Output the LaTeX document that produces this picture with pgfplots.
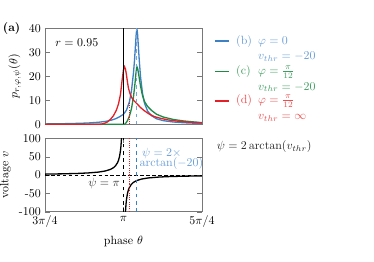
\documentclass[border=0pt]{standalone}
\usepackage{pgfplots}
\pgfplotsset{compat=1.18}
\definecolor{cb}{RGB}{62,128,196}
\definecolor{cg}{RGB}{30,138,70}
\definecolor{cr}{RGB}{228,32,38}
\definecolor{tb}{RGB}{105,158,215}
\definecolor{tg}{RGB}{62,158,95}
\definecolor{tr}{RGB}{236,78,78}
\definecolor{framegray}{RGB}{120,120,120}
\pgfplotstableread{
d v
-0.785 0.15
-0.6 0.25
-0.45 0.4
-0.35 0.55
-0.25 0.85
-0.18 1.2
-0.12 1.75
-0.08 2.3
-0.04 3.1
0 4.2
0.03 5.9
0.06 9.5
0.08 14.0
0.1 21.5
0.11 26.5
0.12 33.0
0.127 37.5
0.134 40
0.141 37.5
0.148 33.0
0.158 26.5
0.17 20.0
0.19 13.0
0.21 8.8
0.24 5.6
0.28 3.6
0.33 2.3
0.4 1.5
0.5 0.95
0.6 0.65
0.7 0.48
0.785 0.38
}\tabB
\pgfplotstableread{
d v
-0.785 0
0.01 0
0.02 0.3
0.04 1.5
0.06 3.5
0.08 6.5
0.1 11.5
0.115 17
0.125 21.5
0.134 24
0.143 23
0.155 20
0.17 16
0.19 12
0.21 9.5
0.24 7.5
0.28 5.8
0.33 4.2
0.4 3.0
0.5 2.0
0.6 1.4
0.7 1.0
0.785 0.7
}\tabG
\pgfplotstableread{
d v
-0.785 0
-0.25 0
-0.22 0.1
-0.19 0.4
-0.16 1.0
-0.13 2.1
-0.1 3.6
-0.07 6.0
-0.05 8.5
-0.03 12.5
-0.015 18
0 22.8
0.01 24
0.02 23
0.03 20.5
0.04 17.5
0.05 15
0.065 12.8
0.08 11.3
0.1 10.0
0.134 8.6
0.17 7.0
0.21 5.6
0.26 4.2
0.31 3.2
0.37 2.5
0.45 1.8
0.55 1.25
0.65 0.9
0.785 0.6
}\tabR
\pgfplotstableread{
d v
-0.785 2.414
-0.6 3.233
-0.45 4.369
-0.35 5.656
-0.25 7.958
-0.18 11.08
-0.13 15.36
-0.1 19.98
-0.08 24.99
-0.06 33.32
-0.05 39.99
-0.04 49.99
-0.03 66.66
-0.025 79.99
-0.02 100.0
-0.018 111.1
}\tabVL
\pgfplotstableread{
d v
0.018 -111.1
0.02 -100.0
0.025 -79.99
0.03 -66.66
0.04 -49.99
0.05 -39.99
0.06 -33.32
0.08 -24.99
0.1 -19.98
0.13 -15.36
0.18 -11.08
0.25 -7.958
0.35 -5.656
0.45 -4.369
0.6 -3.233
0.785 -2.414
}\tabVR
\begin{document}
\begin{tikzpicture}
\path[use as bounding box] (0,0) rectangle (314.16pt,220.08pt);
\begin{axis}[scale only axis, width=131.88pt, height=80.64pt,
  at={(37.8pt,115.67pt)}, anchor=south west,
  xmin=-0.7854, xmax=0.7854,
  ymin=0, ymax=40,
  axis line style={draw=framegray},
  tick style={draw=framegray},
  tick align=inside,
  ytick={0,10,20,30,40},
  xtick={-0.7854,0,0.7854}, xticklabels={},
  ylabel={$p_{r,\varphi,\psi}(\theta)$},
]
\addplot[cb, line width=1.1pt] table[x=d,y=v] {\tabB};
\addplot[cg, line width=1.1pt] table[x=d,y=v] {\tabG};
\addplot[cr, line width=1.1pt] table[x=d,y=v] {\tabR};
\addplot[black, line width=0.6pt] coordinates {(0,0) (0,40)};
\addplot[cb!70!white, dashed, line width=0.9pt] coordinates {(0.134,0) (0.134,40)};
\addplot[cr, densely dotted, line width=0.9pt] coordinates {(0.06,0) (0.06,9)};
\node[anchor=base west, inner sep=0pt] at (axis cs:-0.683,32.6) {$r=0.95$};
\end{axis}
\begin{axis}[scale only axis, width=131.88pt, height=61.66pt,
  at={(37.8pt,42.25pt)}, anchor=south west,
  xmin=-0.7854, xmax=0.7854,
  ymin=-100, ymax=100,
  axis line style={draw=framegray},
  tick style={draw=framegray},
  tick align=inside,
  ytick={-100,-50,0,50,100},
  yticklabels={-100,-50,0,50,100},
  xtick={-0.7854,0,0.7854},
  xticklabels={$3\pi/4$,$\pi$,$5\pi/4$},
  xlabel={phase $\theta$},
  ylabel={voltage $v$},
]
\addplot[black, densely dashed, line width=0.4pt] coordinates {(-0.7854,0) (0.7854,0)};
\addplot[black, line width=1.1pt] table[x=d,y=v] {\tabVL};
\addplot[black, line width=1.1pt] table[x=d,y=v] {\tabVR};
\addplot[black, dashed, line width=0.9pt] coordinates {(0,-100) (0,100)};
\addplot[cr, densely dotted, line width=0.9pt] coordinates {(0.06,-100) (0.06,100)};
\addplot[cb, dashed, line width=0.9pt] coordinates {(0.134,-100) (0.134,100)};
\node[anchor=base west, black!80, inner sep=0pt] at (axis cs:-0.353,-30) {$\psi=\pi$};
\node[anchor=base west, tb, inner sep=0pt] at (axis cs:0.184,51) {$\psi=2\times$};
\node[anchor=base west, tb, inner sep=0pt] at (axis cs:0.16,22) {$\arctan(-20)$};
\end{axis}
\node[anchor=base west, inner sep=0pt] at (2.3pt,193.2pt) {\textbf{(a)}};
\draw[cb, line width=1.1pt] (180.6pt,185.6pt) -- (192.4pt,185.6pt);
\draw[cg, line width=1.1pt] (180.6pt,160.0pt) -- (192.4pt,160.0pt);
\draw[cr, line width=1.1pt] (180.6pt,135.2pt) -- (192.4pt,135.2pt);
\node[anchor=base west, tb, inner sep=0pt] at (198.2pt,183.1pt) {(b)};
\node[anchor=base west, tb, inner sep=0pt] at (216.7pt,183.1pt) {$\varphi=0$};
\node[anchor=base west, tb, inner sep=0pt] at (216.7pt,170.1pt) {$v_{thr}=-20$};
\node[anchor=base west, tg, inner sep=0pt] at (198.2pt,157.8pt) {(c)};
\node[anchor=base west, tg, inner sep=0pt] at (216.7pt,157.8pt) {$\varphi=\frac{\pi}{12}$};
\node[anchor=base west, tg, inner sep=0pt] at (216.7pt,144.4pt) {$v_{thr}=-20$};
\node[anchor=base west, tr, inner sep=0pt] at (198.2pt,133.0pt) {(d)};
\node[anchor=base west, tr, inner sep=0pt] at (216.7pt,133.0pt) {$\varphi=\frac{\pi}{12}$};
\node[anchor=base west, tr, inner sep=0pt] at (216.7pt,119.6pt) {$v_{thr}=\infty$};
\node[anchor=base west, black!85, inner sep=0pt] at (182pt,94.1pt) {$\psi=2\arctan(v_{thr})$};
\end{tikzpicture}
\end{document}
